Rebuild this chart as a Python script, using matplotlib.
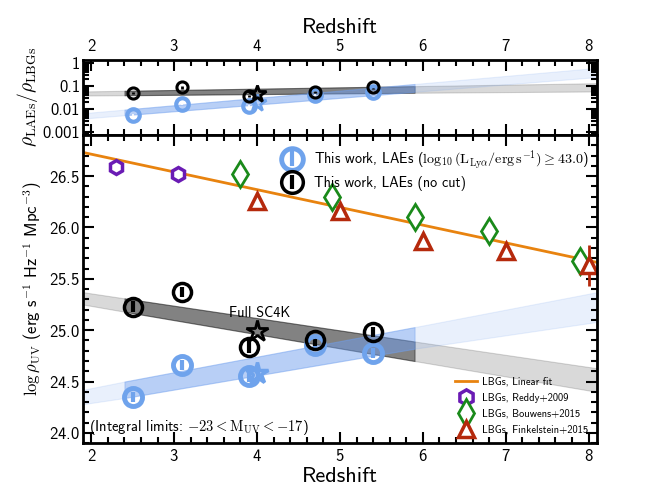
import numpy as np
import matplotlib
matplotlib.use("Agg")
import matplotlib.pyplot as plt
from matplotlib.ticker import MultipleLocator, LogLocator, NullFormatter, FixedLocator, FixedFormatter

plt.rcParams['font.family'] = ['cmss10', 'DejaVu Sans']
plt.rcParams['mathtext.fontset'] = 'cm'
plt.rcParams['axes.unicode_minus'] = False
plt.rcParams['axes.formatter.use_mathtext'] = True

# --- data ---
# this work (no cut), black circles
z_lae = [2.5, 3.1, 3.9, 4.7, 5.4]
rho_nocut = [25.23, 25.37, 24.84, 24.90, 24.98]
rho_nocut_err = [0.05, 0.05, 0.06, 0.05, 0.05]
# this work (L >= 10^43), blue circles
rho_cut = [24.35, 24.66, 24.55, 24.86, 24.78]
rho_cut_err = [0.05, 0.05, 0.05, 0.05, 0.05]
# full SC4K stars at z=4
z_full = [4.0]
rho_full_nocut = [24.99]
rho_full_cut = [24.58]

# LBG literature
z_reddy = [2.3, 3.05]
rho_reddy = [26.59, 26.52]
z_bouwens = [3.8, 4.9, 5.9, 6.8, 7.9]
rho_bouwens = [26.52, 26.30, 26.10, 25.97, 25.67]
z_fink = [4.0, 5.0, 6.0, 7.0, 8.0]
rho_fink = [26.26, 26.16, 25.87, 25.77, 25.63]
rho_fink_err = [0.04, 0.04, 0.04, 0.04, 0.20]
z_fit = [1.9, 8.1]
rho_fit = [26.73, 25.66]

# fit bands (main panel), at z = 1.9, 2.4, 5.9, 8.1
z_band = [1.9, 2.4, 5.9, 8.1]
grey_lo = [25.25, 25.18, 24.70, 24.40]
grey_hi = [25.37, 25.31, 24.89, 24.63]
blue_lo = [24.28, 24.34, 24.82, 25.08]
blue_hi = [24.42, 24.50, 25.03, 25.37]

# ratio panel
ratio_nocut = [0.049, 0.085, 0.035, 0.054, 0.085]
ratio_cut = [0.0054, 0.016, 0.014, 0.042, 0.052]
ratio_full_nocut = [0.045]
ratio_full_cut = [0.018]
rgrey_lo = [0.038, 0.039, 0.050, 0.057]
rgrey_hi = [0.057, 0.061, 0.097, 0.13]
rblue_lo = [0.0038, 0.0053, 0.055, 0.24]
rblue_hi = [0.0065, 0.0093, 0.12, 0.60]

blue = '#6FA3EC'
bandblue = '#6F9FEF'
orange = '#E8830F'
purple = '#6A1BB4'
green = '#1A8A1A'
red = '#B5290C'

fig = plt.figure(figsize=(6.64, 4.98), dpi=100)
ax_top = fig.add_axes([0.125, 0.729, 0.774, 0.151])
ax = fig.add_axes([0.125, 0.110, 0.774, 0.619])


def draw_bands(a, lo, hi, color):
    a.fill_between(z_band, lo, hi, color=color, alpha=0.15, lw=0.8)
    a.fill_between(z_band[1:3], lo[1:3], hi[1:3], facecolor=color, alpha=0.4,
                   edgecolor=color, lw=0.8)


# --- main panel ---
draw_bands(ax, grey_lo, grey_hi, 'k')
draw_bands(ax, blue_lo, blue_hi, bandblue)

fit_line, = ax.plot(z_fit, rho_fit, color=orange, lw=2, label='LBGs, Linear fit')
h_reddy = ax.errorbar(z_reddy, rho_reddy, yerr=0.04, fmt='h', ms=10, mfc='white', mec=purple,
                      mew=2.5, ecolor=purple, elinewidth=2, label='LBGs, Reddy+2009')
h_bouw = ax.errorbar(z_bouwens, rho_bouwens, yerr=0.04, fmt='d', ms=13, mfc='white', mec=green,
                     mew=2, ecolor=green, elinewidth=2, label='LBGs, Bouwens+2015')
h_fink = ax.errorbar(z_fink, rho_fink, yerr=rho_fink_err, fmt='^', ms=11, mfc='white', mec=red,
                     mew=2.5, ecolor=red, elinewidth=2, label='LBGs, Finkelstein+2015')

h_cut = ax.errorbar(z_lae, rho_cut, yerr=rho_cut_err, fmt='o', ms=13, mfc='none', mec=blue,
                    mew=3.5, ecolor=blue, elinewidth=3,
                    label=r'This work, LAEs ($\log_{10}(\rm L_{Ly\alpha}/erg\,s^{-1}) \geq 43.0$)')
h_nocut = ax.errorbar(z_lae, rho_nocut, yerr=rho_nocut_err, fmt='o', ms=13, mfc='none', mec='k',
                      mew=2.5, ecolor='k', elinewidth=3, label='This work, LAEs (no cut)')
ax.plot(z_full, rho_full_cut, '*', ms=16, mfc='none', mec=blue, mew=2.5)
ax.plot(z_full, rho_full_nocut, '*', ms=16, mfc='none', mec='k', mew=2)
ax.text(4.03, 25.10, 'Full SC4K', ha='center', va='bottom', fontsize=10.3)
ax.text(1.97, 24.05, r'(Integral limits: $-23 < \rm M_{UV} < -17$)', fontsize=10.5,
        ha='left', va='center')

ax.set_xlim(1.9, 8.1)
ax.set_ylim(23.9, 26.9)
ax.xaxis.set_major_locator(MultipleLocator(1))
ax.xaxis.set_minor_locator(MultipleLocator(0.2))
ax.yaxis.set_major_locator(MultipleLocator(0.5))
ax.yaxis.set_minor_locator(MultipleLocator(0.1))
ax.set_yticks([24.0, 24.5, 25.0, 25.5, 26.0, 26.5])
ax.set_xlabel('Redshift', fontsize=16, labelpad=2)
ax.set_ylabel(r'$\log\rho_{\rm UV}$ (erg s$^{-1}$ Hz$^{-1}$ Mpc$^{-3}$)', fontsize=12, labelpad=4)

leg1 = ax.legend(handles=[h_cut, h_nocut], loc='upper right', bbox_to_anchor=(1.0, 0.985),
                 frameon=False, fontsize=10.2, handletextpad=0.5, labelspacing=0.3,
                 borderaxespad=0.2, markerscale=1.2)
ax.add_artist(leg1)
ax.legend(handles=[fit_line, h_reddy, h_bouw, h_fink], loc='lower right', frameon=False,
          fontsize=7.6, labelspacing=0.55, handlelength=2.0, handletextpad=0.5,
          borderaxespad=0.45, bbox_to_anchor=(1.0, 0.0), markerscale=1.1)

# --- ratio panel ---
draw_bands(ax_top, rgrey_lo, rgrey_hi, 'k')
draw_bands(ax_top, rblue_lo, rblue_hi, bandblue)
ax_top.errorbar(z_lae, ratio_cut, yerr=[np.array(ratio_cut) * 0.1, np.array(ratio_cut) * 0.1],
                fmt='o', ms=9, mfc='none', mec=blue, mew=3, ecolor='white', elinewidth=1.2)
ax_top.errorbar(z_lae, ratio_nocut, yerr=[np.array(ratio_nocut) * 0.1, np.array(ratio_nocut) * 0.1],
                fmt='o', ms=8, mfc='none', mec='k', mew=2.2, ecolor='k', elinewidth=2)
ax_top.plot(z_full, ratio_full_cut, '*', ms=13, mfc='none', mec=blue, mew=2)
ax_top.plot(z_full, ratio_full_nocut, '*', ms=13, mfc='none', mec='k', mew=2)
ax_top.set_yscale('log')
ax_top.set_xlim(1.9, 8.1)
ax_top.set_ylim(7.4e-4, 1.35)
ax_top.yaxis.set_major_locator(FixedLocator([0.001, 0.01, 0.1, 1]))
ax_top.yaxis.set_major_formatter(FixedFormatter(['0.001', '0.01', '0.1', '1']))
ax_top.yaxis.set_minor_locator(LogLocator(base=10, subs=np.arange(2, 10) * 1.0, numticks=10))
ax_top.yaxis.set_minor_formatter(NullFormatter())
ax_top.xaxis.set_major_locator(MultipleLocator(1))
ax_top.xaxis.set_minor_locator(MultipleLocator(0.2))
ax_top.xaxis.set_label_position('top')
ax_top.set_xlabel('Redshift', fontsize=16, labelpad=4)
ax_top.set_ylabel(r'$\rho_{\rm LAEs}/\rho_{\rm LBGs}$', fontsize=14, labelpad=2)

for a in (ax, ax_top):
    for s in a.spines.values():
        s.set_linewidth(2)
    a.tick_params(which='both', direction='in', top=True, right=True, width=1.5, labelsize=12)
    a.tick_params(which='major', length=8)
    a.tick_params(which='minor', length=4)
ax_top.tick_params(axis='x', labeltop=True, labelbottom=False, pad=4)
ax_top.tick_params(axis='y', pad=2)
ax.tick_params(axis='y', pad=2)

fig.savefig('out.png', dpi=100)
